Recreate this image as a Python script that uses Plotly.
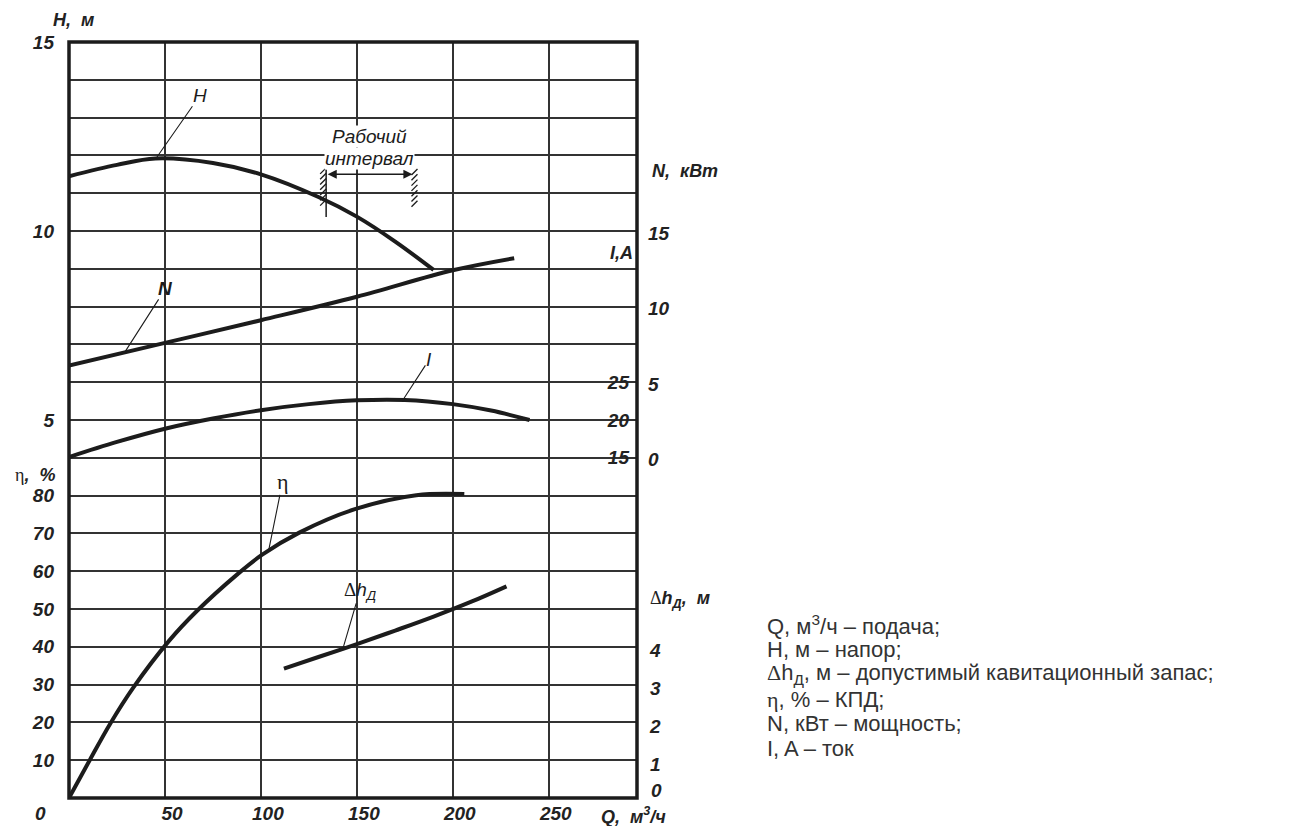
import numpy as np
import plotly.graph_objects as go

# ---------------- data ----------------
Q_TICKS = [0, 50, 100, 150, 200, 250]

# H, м  (напор)
H_Q = [0, 25, 45, 75, 100, 130, 150, 170, 190]
H_VAL = [11.45, 11.75, 11.92, 11.8, 11.5, 10.9, 10.38, 9.72, 8.97]

# N, кВт (мощность)
N_Q = [0, 50, 100, 150, 200, 232]
N_VAL = [6.1, 7.6, 9.1, 10.65, 12.4, 13.2]

# I, A (ток)
I_Q = [0, 25, 50, 75, 100, 125, 150, 175, 200, 220, 240]
I_VAL = [15.1, 17.1, 18.85, 20.2, 21.3, 22.1, 22.6, 22.65, 22.1, 21.25, 20.0]

# η, % (КПД)
ETA_Q = [0, 11, 21.4, 33.5, 52, 66.5, 88, 100.5, 120, 149, 181, 206]
ETA_VAL = [0, 10.2, 19.6, 29.2, 41.5, 49.4, 59.3, 64.3, 70.2, 76.4, 80.1, 80.4]

# Δh_Д, м (допустимый кавитационный запас)
DH_Q = [112, 130, 150, 170, 190, 210, 228]
DH_VAL = [3.42, 3.73, 4.07, 4.43, 4.8, 5.2, 5.6]

# Рабочий интервал (Q bounds)
WORK_Q = [134, 179]

H_TICKS = [5, 10, 15]
ETA_TICKS = [10, 20, 30, 40, 50, 60, 70, 80]
N_TICKS = [0, 5, 10, 15]
I_TICKS = [15, 20, 25]
DH_TICKS = [1, 2, 3, 4]

LEGEND_LINES = [
    "Q, м<sup>3</sup>/ч – подача;",
    "H, м – напор;",
    "<span style='font-family:Liberation Serif'>Δ</span>h<sub>Д</sub>, м – допустимый кавитационный запас;",
    "<span style='font-family:Liberation Serif'>η</span>, % – КПД;",
    "N, кВт – мощность;",
    "I, A – ток",
]

# ---------------- style ----------------
INK = "#1c1c1c"
GRID = "#333333"
FONT = "Liberation Sans"
SERIF = "Liberation Serif"
TICKFONT = dict(family=FONT, size=19, color="#222", weight="bold", style="italic")

W, H = 1308, 826
L, R, T, B = 69, 637, 42, 798  # plot area in pixels


def px(x):
    return (x - L) / (R - L)


def py(y):
    return (B - y) / (B - T)


fig = go.Figure()

line_style = dict(color=INK, width=4, shape="spline", smoothing=1.0)
fig.add_trace(go.Scatter(x=H_Q, y=H_VAL, yaxis="y", mode="lines", line=line_style, hoverinfo="skip"))
fig.add_trace(go.Scatter(x=ETA_Q, y=ETA_VAL, yaxis="y2", mode="lines", line=line_style, hoverinfo="skip"))
fig.add_trace(go.Scatter(x=N_Q, y=N_VAL, yaxis="y3", mode="lines", line=line_style, hoverinfo="skip"))
fig.add_trace(go.Scatter(x=I_Q, y=I_VAL, yaxis="y4", mode="lines", line=line_style, hoverinfo="skip"))
fig.add_trace(go.Scatter(x=DH_Q, y=DH_VAL, yaxis="y5", mode="lines", line=line_style, hoverinfo="skip"))

h_grid = list(range(-5, 16))
common_y = dict(zeroline=False, showline=False, ticks="", tickfont=TICKFONT,
                fixedrange=True, automargin=False)

fig.update_layout(
    width=W, height=H, autosize=False,
    margin=dict(l=L, r=W - R, t=T, b=H - B, pad=0),
    paper_bgcolor="white", plot_bgcolor="white",
    showlegend=False,
    xaxis=dict(range=[0, 296], tickvals=Q_TICKS,
               ticktext=["" if v == 0 else str(v) for v in Q_TICKS],
               showgrid=True, gridcolor=GRID, gridwidth=1.8, zeroline=False,
               showline=False, ticks="", tickfont=TICKFONT, automargin=False,
               ticklabelshift=7, ticklabelstandoff=2, fixedrange=True),
    yaxis=dict(range=[-5, 15], tickvals=h_grid,
               ticktext=[str(v) if v in H_TICKS else "" for v in h_grid],
               showgrid=True, gridcolor=GRID, gridwidth=1.8,
               ticklabelstandoff=14, **common_y),
    yaxis2=dict(range=[0, 200], overlaying="y", side="left", anchor="x",
                tickvals=ETA_TICKS, showgrid=False, ticklabelstandoff=14, **common_y),
    yaxis3=dict(range=[-22.5, 27.5], overlaying="y", side="right", anchor="x",
                tickvals=N_TICKS, showgrid=False, ticklabelstandoff=10,
                ticklabelshift=2, **common_y),
    yaxis4=dict(range=[-30, 70], overlaying="y", side="right", anchor="x",
                tickvals=I_TICKS, showgrid=False, ticklabelposition="inside",
                ticklabelstandoff=5, **common_y),
    yaxis5=dict(range=[0, 20], overlaying="y", side="right", anchor="x",
                tickvals=DH_TICKS, showgrid=False, ticklabelstandoff=12,
                ticklabelshift=4, **common_y),
)

shapes = [dict(type="rect", xref="x domain", yref="y domain", x0=0, x1=1, y0=0, y1=1,
               line=dict(color=INK, width=3.5), layer="above")]

# working-interval markers
left_top, left_bot = 11.63, 10.37
shapes.append(dict(type="line", xref="x", yref="y", x0=WORK_Q[0], x1=WORK_Q[0],
                   y0=left_bot, y1=left_top, line=dict(color=INK, width=1.5)))
for yy in np.arange(10.75, 11.6, 0.14):
    shapes.append(dict(type="line", xref="x", yref="y", xsizemode="pixel", ysizemode="pixel",
                       xanchor=WORK_Q[0], yanchor=yy, x0=-6, x1=0, y0=-3, y1=3,
                       line=dict(color=INK, width=1.3)))
for yy in np.arange(10.72, 11.6, 0.14):
    shapes.append(dict(type="line", xref="x", yref="y", xsizemode="pixel", ysizemode="pixel",
                       xanchor=WORK_Q[1], yanchor=yy, x0=-1, x1=5, y0=-3, y1=3,
                       line=dict(color=INK, width=1.3)))
fig.update_layout(shapes=shapes)

ann = []
# double arrow of working interval
ann.append(dict(x=WORK_Q[1], y=11.5, ax=WORK_Q[0], ay=11.5, xref="x", yref="y",
                axref="x", ayref="y", text="", showarrow=True, arrowside="end+start",
                arrowhead=2, arrowsize=1.3, arrowwidth=1.4, arrowcolor=INK))
mid_q = (WORK_Q[0] + WORK_Q[1]) / 2
wfont = dict(family=FONT, size=19, color=INK, style="italic")
ann.append(dict(x=mid_q, y=12.5, xref="x", yref="y", text="Рабочий", showarrow=False,
                xanchor="center", yanchor="middle", bgcolor="white", borderpad=0, font=wfont))
ann.append(dict(x=mid_q, y=11.93, xref="x", yref="y", text="интервал", showarrow=False,
                xanchor="center", yanchor="middle", bgcolor="white", borderpad=0, font=wfont))

# curve labels with leader lines
lab_font = dict(family=FONT, size=19, color=INK, style="italic")


def leader(text, q, qs, vals, yref, ax, ay, font):
    return dict(x=q, y=float(np.interp(q, qs, vals)), xref="x", yref=yref, text=text,
                showarrow=True, arrowhead=0, arrowwidth=1.1, arrowcolor=INK,
                ax=ax, ay=ay, font=font, standoff=0, borderpad=0)


ann.append(leader("H", 45.3, H_Q, H_VAL, "y", 44, -63, lab_font))
ann.append(leader("<b>N</b>", 29, N_Q, N_VAL, "y3", 41, -64, lab_font))
ann.append(leader("I", 174, I_Q, I_VAL, "y4", 26, -40, lab_font))
ann.append(leader("η", 104, ETA_Q, ETA_VAL, "y2", 14, -69,
                  dict(family=SERIF, size=22, color=INK)))
ann.append(leader("<span style='font-family:Liberation Serif;font-style:normal'>Δ</span>h<sub>Д</sub>",
                  142.7, DH_Q, DH_VAL, "y5", 17, -58, lab_font))

# axis titles
tfont = dict(family=FONT, size=18, color="#222", weight="bold", style="italic")


def label(text, x, y, xanchor="center", font=tfont, pad=1):
    return dict(x=px(x), y=py(y), xref="paper", yref="paper", text=text,
                xanchor=xanchor, yanchor="middle", showarrow=False, font=font,
                borderpad=pad)


ann.append(label("H,  м", 73, 20))
ann.append(label("<span style='font-family:Liberation Serif;font-weight:normal;font-style:normal'>η</span>,  %", 35, 475))
ann.append(label("N,  кВт", 650, 171, "left"))
ann.append(label("I,A", 635, 253, "right"))
ann.append(label("<span style='font-family:Liberation Serif;font-weight:normal;font-style:normal'>Δ</span>h<sub>Д</sub>,  м",
                 648, 599, "left"))
ann.append(label("Q,  м<sup>3</sup>/ч", 600, 816, "left", pad=0))
ann.append(label("0", 40, 813, "center", TICKFONT))
ann.append(label("0", 656, 790, "center", TICKFONT, pad=0))  # Δh_Д origin label

# explanation block
for i, line in enumerate(LEGEND_LINES):
    ann.append(label(line, 766, 625 + i * 24.7, "left",
                     dict(family=FONT, size=22, color="#333"), pad=0))

fig.update_layout(annotations=ann)
fig.write_html("out.html", config={"displayModeBar": False},
               post_script="document.body.style.margin='0px';document.body.style.overflow='hidden';")
